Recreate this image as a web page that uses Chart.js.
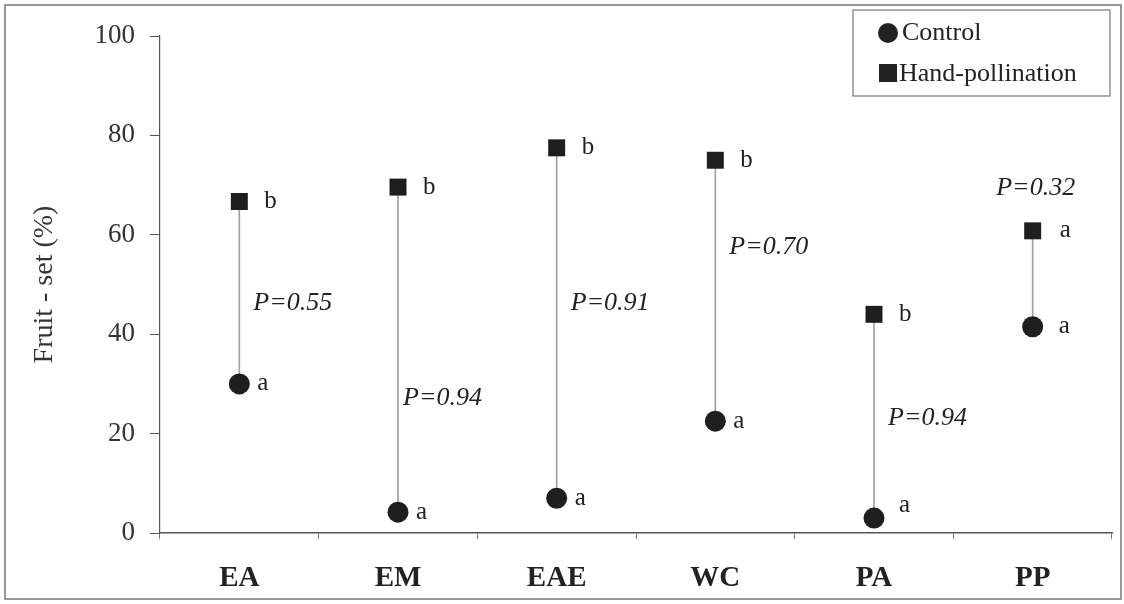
<!DOCTYPE html>
<html>
<head>
<meta charset="utf-8">
<script src="https://cdn.jsdelivr.net/npm/chart.js@4/dist/chart.umd.min.js"></script>
<style>
  html, body { margin: 0; padding: 0; background: #fff; }
  #wrap { width: 1124px; height: 604px; }
</style>
</head>
<body>
<div id="wrap"><canvas id="chart_fruit" width="1124" height="604"></canvas></div>
<script>
const sites = ["EA", "EM", "EAE", "WC", "PA", "PP"];
const control = [30, 4.2, 7, 22.5, 3, 41.5];
const handPollination = [66.7, 69.6, 77.5, 75, 44, 60.8];
const controlLetters = ["a", "a", "a", "a", "a", "a"];
const handLetters = ["b", "b", "b", "b", "b", "a"];
const pLabels = ["P=0.55", "P=0.94", "P=0.91", "P=0.70", "P=0.94", "P=0.32"];
const pLabelAt = [46.3, 27.2, 46.3, 57.5, 23.1, 69.4];
const yTicks = [0, 20, 40, 60, 80, 100];

const serif = "'Liberation Serif', 'Times New Roman', serif";
const $chart_fruit = document.getElementById("chart_fruit");

// vertical connector from control to hand-pollination
const ranges = control.map((c, i) => [c, handPollination[i]]);

const labelsPlugin = {
    id: "labelsPlugin",
    beforeDraw(chart) {
        const ctx = chart.ctx;
        ctx.save();
        ctx.fillStyle = "#fff";
        ctx.fillRect(0, 0, chart.width, chart.height);
        ctx.strokeStyle = "#777";
        ctx.lineWidth = 1.5;
        ctx.strokeRect(5, 5, 1116, 594);
        ctx.restore();
    },
    afterDatasetsDraw(chart) {
        const ctx = chart.ctx;
        const x = chart.scales.x;
        const y = chart.scales.y;
        ctx.save();
        ctx.fillStyle = "#222";
        ctx.textBaseline = "middle";

        // significance letters
        ctx.font = "25px " + serif;
        ctx.textAlign = "left";
        sites.forEach((s, i) => {
            const px = x.getPixelForValue(i);
            const cdx = i === 5 ? 26 : (i === 4 ? 25 : 18);
            const cdy = i === 4 ? -13 : 0;
            const hdx = i === 5 ? 27 : 25;
            ctx.fillText(controlLetters[i], px + cdx, y.getPixelForValue(control[i]) + cdy);
            ctx.fillText(handLetters[i], px + hdx, y.getPixelForValue(handPollination[i]));
        });

        // P values
        ctx.font = "italic 26px " + serif;
        sites.forEach((s, i) => {
            const px = x.getPixelForValue(i);
            if (i === 5) {
                ctx.textAlign = "center";
                ctx.fillText(pLabels[i], px + 3, y.getPixelForValue(pLabelAt[i]));
            } else {
                ctx.textAlign = "left";
                const dx = i === 1 ? 5 : 14;
                ctx.fillText(pLabels[i], px + dx, y.getPixelForValue(pLabelAt[i]));
            }
        });

        // legend box
        ctx.strokeStyle = "#777";
        ctx.lineWidth = 1.2;
        ctx.strokeRect(853, 10, 257, 86);
        ctx.fillStyle = "#222";
        ctx.beginPath();
        ctx.arc(888, 33, 10, 0, Math.PI * 2);
        ctx.fill();
        ctx.fillRect(879, 64, 18, 18);
        ctx.font = "26px " + serif;
        ctx.textAlign = "left";
        ctx.fillText(chart.data.datasets[0].label, 902, 33);
        ctx.fillText(chart.data.datasets[1].label, 899, 74);
        ctx.restore();
    }
};

new Chart($chart_fruit, {
    data: {
        labels: sites,
        datasets: [
            {
                type: "line",
                label: "Control",
                data: control,
                showLine: false,
                pointStyle: "circle",
                pointRadius: 10.5,
                pointBackgroundColor: "#1e1e1e",
                pointBorderColor: "#1e1e1e",
                pointBorderWidth: 0,
                order: 0,
            },
            {
                type: "line",
                label: "Hand-pollination",
                data: handPollination,
                showLine: false,
                pointStyle: "rect",
                pointRadius: 12,
                pointBackgroundColor: "#1e1e1e",
                pointBorderColor: "#1e1e1e",
                pointBorderWidth: 0,
                order: 0,
            },
            {
                type: "bar",
                label: "range",
                data: ranges,
                backgroundColor: "#a0a0a0",
                barThickness: 1,
                grouped: false,
                order: 1,
            },
        ],
    },
    options: {
        responsive: false,
        animation: false,
        devicePixelRatio: 1,
        layout: {
            padding: { left: 18, top: 36, right: 6, bottom: 0 },
        },
        plugins: {
            legend: { display: false },
            tooltip: { enabled: false },
        },
        scales: {
            x: {
                type: "category",
                offset: true,
                grid: {
                    offset: true,
                    drawOnChartArea: false,
                    tickLength: 6,
                    color: "#777",
                },
                border: { color: "#555", width: 1.5 },
                ticks: {
                    padding: 22,
                    color: "#222",
                    font: { family: serif, size: 29, weight: "bold" },
                },
                afterFit(scale) {
                    scale.height = 71;
                },
            },
            y: {
                min: 0,
                max: 100,
                afterBuildTicks(scale) {
                    scale.ticks = yTicks.map((v) => ({ value: v }));
                },
                grid: {
                    drawOnChartArea: false,
                    tickLength: 10,
                    color: "#555",
                },
                border: { color: "#555", width: 1.2 },
                ticks: {
                    padding: 15,
                    color: "#333",
                    font: { family: serif, size: 27 },
                },
                title: {
                    display: true,
                    text: "Fruit - set (%)",
                    color: "#333",
                    padding: { top: 10, bottom: 0 },
                    font: { family: serif, size: 28 },
                },
                afterFit(scale) {
                    scale.width = 142;
                },
            },
        },
    },
    plugins: [labelsPlugin],
});
</script>
</body>
</html>
